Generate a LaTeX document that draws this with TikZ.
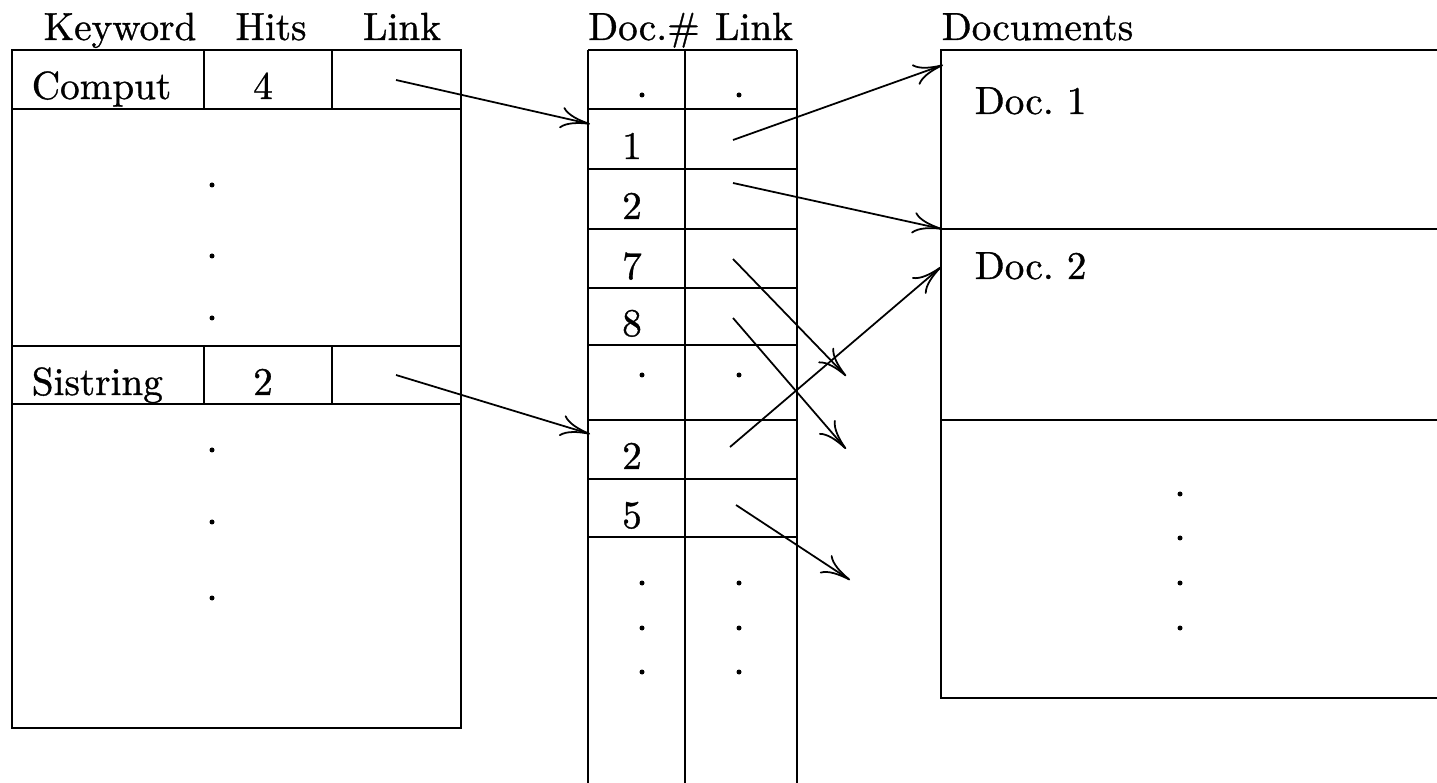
\documentclass[tikz,border=0pt]{standalone}
\usepackage{fontspec}
\setmainfont{lmroman10-regular.otf}[FakeBold=0.9]
\usetikzlibrary{arrows.meta}
\begin{document}
\begin{tikzpicture}[x=0.255pt,y=-0.255pt,
  line width=0.4pt,
  txt/.style={inner sep=0pt,anchor=base},
  txtl/.style={inner sep=0pt,anchor=base west},
  ptr/.style={-{To[length=7.5pt,width=5.5pt]},line width=0.45pt},
  dot/.style={fill=black}]
\useasboundingbox (0,0) rectangle (1437,783);
\clip (0,0) rectangle (1437,783);
% ---------- left table ----------
\node[txt] (hkw) at (120,40) {Keyword};
\node[txt] (hhits) at (271,40) {Hits};
\node[txt] (hlink) at (402,40) {Link};
\draw (12,50) rectangle (461,728);
\draw (12,109) -- (461,109);
\draw (12,346) -- (461,346);
\draw (12,404) -- (461,404);
\draw (204,50) -- (204,109) (332,50) -- (332,109);
\draw (204,346) -- (204,404) (332,346) -- (332,404);
\node[txtl] (comput) at (31,99) {Comput};
\node[txt] (hits4) at (263,99) {4};
\node[txtl] (sist) at (31,395) {Sistring};
\node[txt] (hits2) at (263,395) {2};
\foreach \yy in {185,256,318,450,522,598} \fill[dot] (212,\yy) circle[radius=2.5];
% ---------- middle table ----------
\node[txt] (hdoc) at (644,40) {Doc.\#};
\node[txt] (hlink2) at (754,40) {Link};
\draw (588,50) -- (797,50);
\draw (588,50) -- (588,790) (685,50) -- (685,790) (797,50) -- (797,790);
\foreach \yy in {109,169,229,288,345,420,479,537} \draw (588,\yy) -- (797,\yy);
\node[txt] (d1) at (632,159) {1};
\node[txt] (d2) at (632,219) {2};
\node[txt] (d7) at (632,279) {7};
\node[txt] (d8) at (632,336) {8};
\node[txt] (d2b) at (632,469) {2};
\node[txt] (d5) at (632,528) {5};
\foreach \yy in {95,375,583,628,672} {
  \fill[dot] (642,\yy) circle[radius=2.5];
  \fill[dot] (739,\yy) circle[radius=2.5];
}
% ---------- documents ----------
\node[txtl] (hdocs) at (941,40) {Documents};
\draw (1460,50) -- (941,50) -- (941,698) -- (1460,698);
\draw (941,229) -- (1460,229);
\draw (941,420) -- (1460,420);
\node[txtl] (doc1) at (974,114) {Doc.~1};
\node[txtl] (doc2) at (974,279) {Doc.~2};
\foreach \yy in {494,538,583,628} \fill[dot] (1180,\yy) circle[radius=2.5];
% ---------- pointer coordinates ----------
\coordinate (pComput) at (396,80);
\coordinate (pSist) at (396,375);
\coordinate (tDoc1row) at (590,124);
\coordinate (tDoc2row) at (590,434);
\coordinate (p1) at (733,140);
\coordinate (p2) at (733,183);
\coordinate (p7) at (733,259);
\coordinate (p8) at (733,318);
\coordinate (p2b) at (730,447);
\coordinate (p5) at (736,505);
\coordinate (tD1) at (943,65);
\coordinate (tD1b) at (942,229);
\coordinate (tD2) at (941,267);
\coordinate (t7) at (846,376);
\coordinate (t8) at (846,449);
\coordinate (t5) at (850,580);
% ---------- pointers ----------
\draw[ptr] (pComput) -- (tDoc1row);
\draw[ptr] (pSist) -- (tDoc2row);
\draw[ptr] (p1) -- (tD1);
\draw[ptr] (p2) -- (tD1b);
\draw[ptr] (p7) -- (t7);
\draw[ptr] (p8) -- (t8);
\draw[ptr] (p2b) -- (tD2);
\draw[ptr] (p5) -- (t5);
\end{tikzpicture}
\end{document}
